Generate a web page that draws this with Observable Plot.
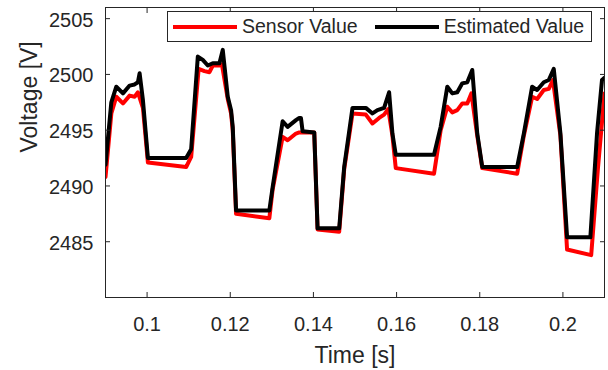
<!DOCTYPE html>
<html><head><meta charset="utf-8">
<script src="https://cdn.jsdelivr.net/npm/d3@7"></script>
<script src="https://cdn.jsdelivr.net/npm/@observablehq/plot@0.6"></script>
<style>
html,body{margin:0;padding:0;background:#fff;}
#wrap{position:relative;width:608px;height:370px;font-family:"Liberation Sans",Arial,Helvetica,sans-serif;}
#legend{position:absolute;left:167px;top:11px;width:425px;height:31px;box-sizing:border-box;border:1px solid #262626;background:#fff;display:flex;align-items:center;font-size:19.5px;color:#262626;white-space:nowrap;}
.item{display:flex;align-items:center;}
.sw{display:inline-block;height:4px;width:64px;margin-right:5px;}
</style></head><body><div id="wrap"></div>
<script>
const seriesNames = ["Sensor Value", "Estimated Value"];
const seriesColors = ["#ff0000", "#000000"];

const sensorTime = [0.0900,0.0914,0.0926,0.0942,0.0958,0.0970,0.0978,0.0990,0.1002,0.1094,0.1106,0.1124,0.1138,0.1150,0.1158,0.1174,0.1180,0.1194,0.1202,0.1206,0.1214,0.1294,0.1302,0.1326,0.1338,0.1358,0.1366,0.1402,0.1410,0.1462,0.1474,0.1494,0.1526,0.1542,0.1558,0.1570,0.1580,0.1590,0.1598,0.1690,0.1706,0.1722,0.1734,0.1746,0.1758,0.1770,0.1780,0.1794,0.1806,0.1890,0.1906,0.1926,0.1938,0.1954,0.1966,0.1976,0.1994,0.2010,0.2068,0.2084,0.2100];
const sensorValue = [2490.8,2496.5,2498.0,2497.4,2498.1,2498.0,2498.4,2497.0,2492.1,2491.7,2492.6,2500.5,2500.3,2500.2,2500.8,2500.8,2500.9,2497.8,2496.5,2495.0,2487.5,2487.1,2489.7,2494.4,2494.1,2494.7,2494.8,2494.8,2486.1,2485.9,2491.5,2496.5,2496.4,2495.6,2496.1,2496.4,2496.9,2494.5,2491.6,2491.1,2495.0,2497.1,2496.6,2496.8,2497.4,2497.4,2498.3,2494.5,2491.6,2491.1,2494.5,2498.0,2497.8,2498.6,2498.7,2499.5,2494.5,2484.3,2483.8,2491.5,2498.3];

const estimatedTime = [0.0900,0.0914,0.0926,0.0942,0.0958,0.0970,0.0978,0.0982,0.0990,0.1002,0.1094,0.1106,0.1122,0.1134,0.1146,0.1158,0.1174,0.1182,0.1194,0.1202,0.1206,0.1214,0.1294,0.1302,0.1326,0.1338,0.1358,0.1366,0.1370,0.1374,0.1402,0.1410,0.1462,0.1474,0.1494,0.1526,0.1542,0.1554,0.1570,0.1582,0.1590,0.1598,0.1690,0.1706,0.1722,0.1734,0.1746,0.1758,0.1770,0.1782,0.1794,0.1806,0.1890,0.1906,0.1926,0.1938,0.1954,0.1966,0.1978,0.1994,0.2010,0.2066,0.2082,0.2094,0.2100];
const estimatedValue = [2491.9,2497.5,2498.9,2498.3,2499.0,2499.1,2499.3,2500.1,2497.7,2492.5,2492.5,2493.3,2501.6,2501.3,2500.8,2501.0,2501.0,2502.2,2498.0,2496.8,2495.3,2487.8,2487.8,2489.9,2495.8,2495.3,2495.9,2496.1,2496.1,2494.9,2494.8,2486.2,2486.2,2491.7,2497.0,2497.0,2496.5,2496.8,2497.0,2498.4,2494.7,2492.8,2492.8,2495.3,2498.9,2498.3,2498.4,2499.2,2499.3,2500.4,2494.7,2491.7,2491.7,2494.7,2498.9,2498.6,2499.3,2499.5,2500.5,2494.7,2485.4,2485.4,2494.7,2499.5,2499.7];

const xTicks = [0.10, 0.12, 0.14, 0.16, 0.18, 0.20];
const xTickLabels = ["0.1", "0.12", "0.14", "0.16", "0.18", "0.2"];
const yTicks = [2485, 2490, 2495, 2500, 2505];
const yTickLabels = ["2485", "2490", "2495", "2500", "2505"];
const xDomain = [0.09, 0.21];
const yDomain = [2480, 2506];
const xLabel = "Time [s]";
const yLabel = "Voltage [V]";

const ink = "#262626";
const fontFamily = '"Liberation Sans", Arial, Helvetica, sans-serif';

const rows = [];
sensorTime.forEach((t, i) => rows.push({t, v: sensorValue[i], s: seriesNames[0]}));
estimatedTime.forEach((t, i) => rows.push({t, v: estimatedValue[i], s: seriesNames[1]}));

const blank = () => "";

const chart = Plot.plot({
  width: 608, height: 370,
  marginLeft: 105, marginRight: 4, marginTop: 7, marginBottom: 73,
  style: {fontFamily, color: ink, background: "white"},
  x: {domain: xDomain},
  y: {domain: yDomain},
  color: {domain: seriesNames, range: seriesColors},
  marks: [
    Plot.line(rows, {x: "t", y: "v", z: "s", stroke: "s", strokeWidth: 4, strokeLinejoin: "round", clip: true}),
    Plot.frame({stroke: ink, strokeWidth: 1}),
    Plot.axisX({anchor: "bottom", ticks: xTicks, tickSize: -5, tickFormat: blank, label: null, stroke: ink}),
    Plot.axisX({anchor: "top", ticks: xTicks, tickSize: -5, tickFormat: blank, label: null, stroke: ink}),
    Plot.axisY({anchor: "left", ticks: yTicks, tickSize: -5, tickFormat: blank, label: null, stroke: ink}),
    Plot.axisY({anchor: "right", ticks: yTicks, tickSize: -5, tickFormat: blank, label: null, stroke: ink}),
    Plot.axisX({anchor: "bottom", ticks: xTicks, tickSize: 0, tickPadding: 19, tickFormat: (d, i) => xTickLabels[i], fontSize: 20, fill: ink, label: null}),
    Plot.axisY({anchor: "left", ticks: yTicks, tickSize: 0, tickPadding: 12, dy: 1.5, tickFormat: (d, i) => yTickLabels[i], fontSize: 20, fill: ink, label: null}),
    Plot.text([xLabel], {text: d => d, frameAnchor: "bottom", dy: 65, lineAnchor: "bottom", fontSize: 23, fill: ink}),
    Plot.text([yLabel], {text: d => d, frameAnchor: "left", rotate: -90, dx: -84.6, lineAnchor: "top", fontSize: 23, fill: ink})
  ]
});

const wrap = document.getElementById("wrap");
wrap.appendChild(chart);

const legend = document.createElement("div");
legend.id = "legend";
seriesNames.forEach((name, i) => {
  const item = document.createElement("span");
  item.className = "item";
  item.style.marginLeft = i === 0 ? "5px" : "17px";
  const sw = document.createElement("span");
  sw.className = "sw";
  sw.style.background = seriesColors[i];
  const label = document.createElement("span");
  label.textContent = name;
  item.appendChild(sw);
  item.appendChild(label);
  legend.appendChild(item);
});
wrap.appendChild(legend);
</script>
</body></html>
